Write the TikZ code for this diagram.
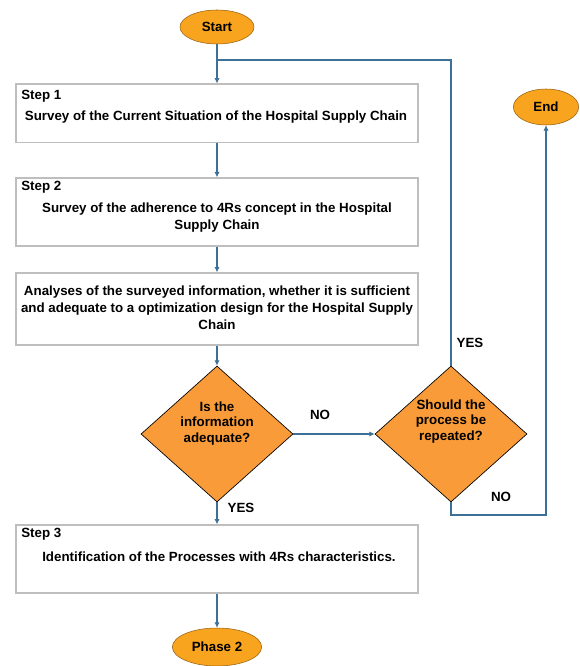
\documentclass[tikz,border=0pt]{standalone}
\usepackage{fontspec}
\setmainfont{Liberation Sans}
\usepackage{xcolor}
\usepackage{tikz}
\usetikzlibrary{shapes.geometric}
\usetikzlibrary{arrows.meta}

\definecolor{flowblue}{HTML}{3C7096}
\definecolor{termorange}{HTML}{F8A41E}
\definecolor{decorange}{HTML}{F89B38}
\definecolor{boxgray}{HTML}{BEBEBE}

\tikzset{
  every node/.style={font=\fontsize{10}{12.75}\selectfont\bfseries},
  stepbox/.style={draw=boxgray, line width=1pt, fill=white, minimum width=301.5pt},
  term/.style={ellipse, draw=termorange!60!black, fill=termorange, inner sep=0pt},
  decision/.style={diamond, draw=black, line width=0.5pt, fill=decorange,
    aspect=1.12, minimum width=114pt, minimum height=102pt, inner sep=0pt},
  dectext/.style={align=center, font=\fontsize{10}{11.6}\selectfont\bfseries},
  flowline/.style={draw=flowblue, line width=1.5pt},
  flow/.style={flowline, -{Latex[length=4pt,width=4pt]}},
}

\begin{document}
\begin{tikzpicture}[x=0.75pt, y=-0.75pt]
\useasboundingbox (0, 0) rectangle (580, 666);

\node[term, minimum width=55.5pt, minimum height=25.5pt] (start) at (217, 27) {Start};
\node[term, minimum width=49pt, minimum height=27pt] (end) at (546, 107) {End};
\node[term, minimum width=67pt, minimum height=28.5pt] (phase) at (217, 647) {Phase 2};

\node[stepbox, minimum height=44pt] (step1) at (217, 113.5) {};
\node[anchor=west, inner sep=0pt] (step1lbl) at (21, 96) {Step 1};
\node (step1txt) at (216, 117) {Survey of the Current Situation of the Hospital Supply Chain};

\node[stepbox, minimum height=51pt] (step2) at (217, 212) {};
\node[anchor=west, inner sep=0pt] (step2lbl) at (21, 187) {Step 2};
\node[align=center] (step2txt) at (217, 217.5) {Survey of the adherence to 4Rs concept in the Hospital\\Supply Chain};

\node[stepbox, minimum height=54pt] (check) at (217, 309) {};
\node[align=center] (checktxt) at (217, 308) {Analyses of the surveyed information, whether it is sufficient\\and adequate to a optimization design for the Hospital Supply\\Chain};

\node[decision] (info) at (217, 434) {};
\node[dectext] (infotxt) at (217, 423.5) {Is the\\information\\adequate?};
\node[decision] (again) at (451, 434) {};
\node[dectext] (againtxt) at (451, 421.5) {Should the\\process be\\repeated?};

\node[stepbox, minimum height=51pt] (step3) at (217, 559) {};
\node[anchor=west, inner sep=0pt] (step3lbl) at (21, 534) {Step 3};
\node (step3txt) at (219, 557) {Identification of the Processes with 4Rs characteristics.};

\coordinate (join) at (217, 60);

\draw[flow] (start) -- (step1);
\draw[flowline] (again.north) |- (join);
\draw[flow] (step1) -- (step2);
\draw[flow] (step2) -- (check);
\draw[flow] (check) -- (info);
\draw[flow] (info) -- (again);
\draw[flow] (again.south) -- ++(0, 13) -| (end.south);
\draw[flow] (info) -- (step3);
\draw[flow] (step3) -- (phase);

\node (nolbl) at (320, 415) {NO};
\node (yeslbl) at (470, 343) {YES};
\node (norepeat) at (501, 497) {NO};
\node (yesinfo) at (241, 508) {YES};
\end{tikzpicture}
\end{document}
